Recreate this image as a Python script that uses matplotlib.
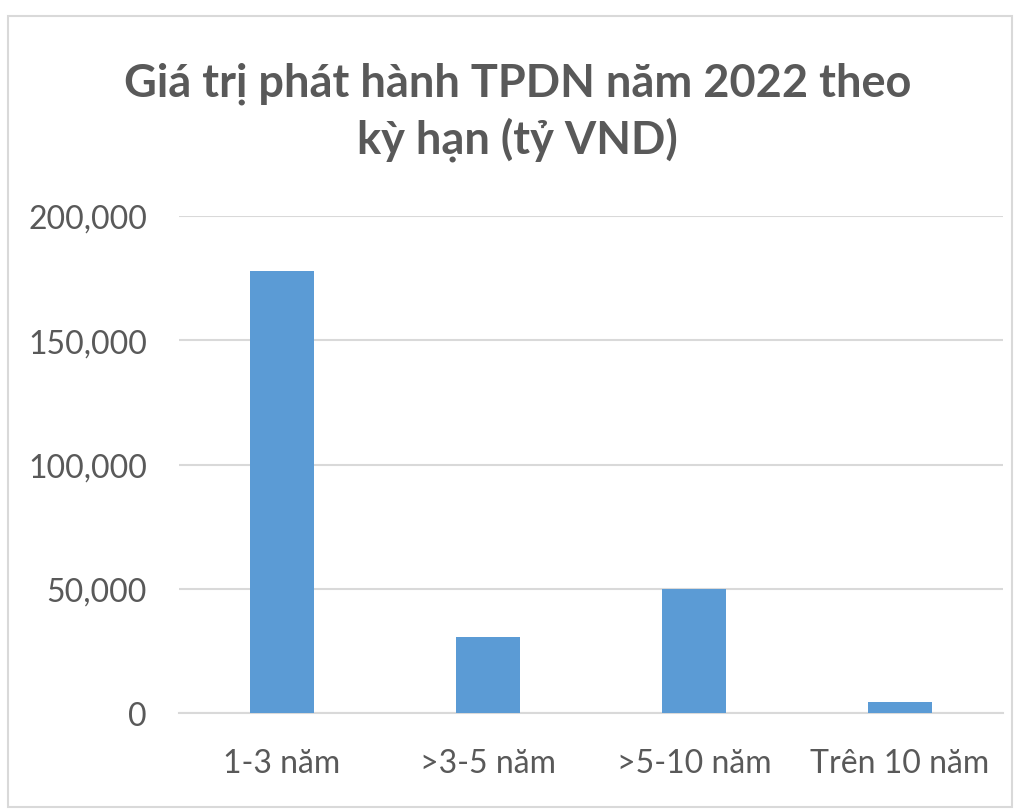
import matplotlib
matplotlib.use("Agg")
import matplotlib.pyplot as plt
from matplotlib.patches import Rectangle
from matplotlib.ticker import FuncFormatter

categories = ["1-3 năm", ">3-5 năm", ">5-10 năm", "Trên 10 năm"]
values = [178000, 30500, 50000, 4300]
yticks = [0, 50000, 100000, 150000, 200000]
title = "Giá trị phát hành TPDN năm 2022 theo\nkỳ hạn (tỷ VND)"

plt.rcParams['font.family'] = ['Lato', 'DejaVu Sans']

fig = plt.figure(figsize=(10.21, 8.12), dpi=100)
fig.patches.append(Rectangle((8/1021, 4/812), 1004/1021, 791/812, transform=fig.transFigure,
                             fill=False, edgecolor='#d9d9d9', linewidth=1.5))
ax = fig.add_axes([179/1021, (812-714)/812, 824/1021, (714-217)/812])
x = range(len(categories))
ax.bar(x, values, width=0.31, color='#5b9bd5', zorder=3)
ax.set_xlim(-0.5, len(categories) - 0.5)
ax.set_ylim(0, 200000)
ax.set_yticks(yticks)
ax.yaxis.set_major_formatter(FuncFormatter(lambda v, p: f"{int(v):,}"))
ax.set_xticks(list(x))
ax.set_xticklabels(categories)
ax.grid(axis='y', color='#d9d9d9', linewidth=1.5, zorder=0)
for s in ['top', 'right', 'left']:
    ax.spines[s].set_visible(False)
ax.spines['bottom'].set_color('#d9d9d9')
ax.spines['bottom'].set_linewidth(1.5)
ax.tick_params(axis='both', length=0, labelsize=23, labelcolor='#595959')
ax.tick_params(axis='y', pad=23)
ax.tick_params(axis='x', pad=25)
fig.text(0.507, 0.862, title, ha='center', va='center', fontsize=32.5, fontweight='bold',
         color='#595959', linespacing=1.35)
fig.savefig("out.png", dpi=100)
